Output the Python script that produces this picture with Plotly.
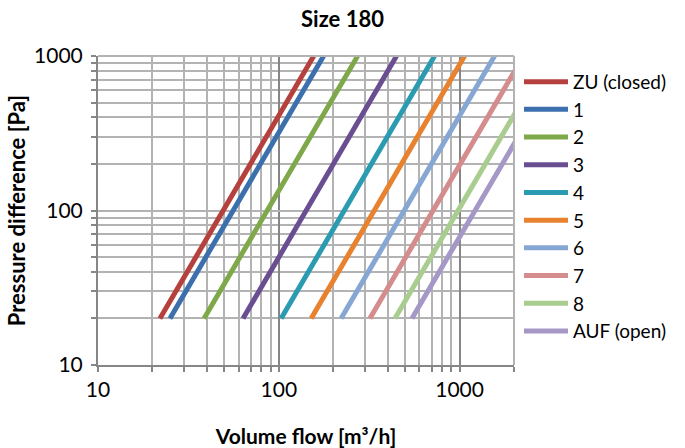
import plotly.graph_objects as go

# Series: volume flow [m3/h] at the low end (20 Pa) and high end (1000 Pa)
names = ["ZU (closed)", "1", "2", "3", "4", "5", "6", "7", "8", "AUF (open)"]
flow_low = [22, 25, 38.6, 63.4, 103, 151, 221, 319, 439, 545]
flow_high = [156, 177, 273, 448, 727, 1066, 1561, 2256, 3104, 3854]
dp_low = [20] * 10
dp_high = [1000] * 10
colors = ["#B5403D", "#3C6FAE", "#7FA84A", "#6A4E92", "#2B9BB1",
          "#E8822E", "#86A7D3", "#D48C8C", "#A9CC8F", "#A597C6"]

x_major = [10, 100, 1000]
y_major = [10, 100, 1000]
x_minor = [m * d for d in (10, 100, 1000) for m in range(2, 10) if m * d <= 2000]
y_minor = [m * d for d in (10, 100) for m in range(2, 10)]

fig = go.Figure()
for n, a, b, c, d, col in zip(names, flow_low, flow_high, dp_low, dp_high, colors):
    fig.add_trace(go.Scatter(x=[a, b], y=[c, d], mode="lines", name=n,
                             line=dict(color=col, width=5)))

font = "Lato, Carlito, 'DejaVu Sans', sans-serif"
fig.update_layout(
    width=685, height=448,
    margin=dict(l=98, r=171, t=56, b=83),
    paper_bgcolor="white", plot_bgcolor="white",
    font=dict(family=font, color="black", size=18),
    title=dict(text="<b>Size 180</b>", x=0.5, xanchor="center", y=0.958, yanchor="middle",
               font=dict(size=22, family=font)),
    legend=dict(x=1.012, xanchor="left", y=0.978, yanchor="top",
                font=dict(size=19, family=font), bgcolor="rgba(0,0,0,0)",
                itemwidth=44, maxheight=420),
    showlegend=True,
)
fig.update_xaxes(
    type="log", range=[1, 3.30103], automargin=False,
    tickvals=x_major, ticktext=["10", "100", "1000"],
    ticks="outside", ticklen=5, tickcolor="#868686", tickwidth=2,
    showline=True, linecolor="#868686", linewidth=2, mirror=False,
    showgrid=True, gridcolor="#868686", gridwidth=2,
    minor=dict(tickvals=x_minor, showgrid=True, gridcolor="#B3B3B3", gridwidth=2,
               ticks="outside", ticklen=5, tickcolor="#868686", tickwidth=2),
    title=dict(text="<b>Volume flow [m³/h]</b>", font=dict(size=21), standoff=30),
    tickfont=dict(size=21), zeroline=False,
)
fig.update_yaxes(
    type="log", range=[1, 3], automargin=False,
    tickvals=y_major, ticktext=["10", "100", "1000"],
    ticks="outside", ticklen=5, tickcolor="#868686", tickwidth=2,
    showline=True, linecolor="#868686", linewidth=2,
    showgrid=True, gridcolor="#B3B3B3", gridwidth=2,
    minor=dict(tickvals=y_minor, showgrid=True, gridcolor="#B3B3B3", gridwidth=2,
               ticks="outside", ticklen=5, tickcolor="#868686", tickwidth=2),
    title=dict(text="<b>Pressure difference [Pa]</b>", font=dict(size=22), standoff=2),
    tickfont=dict(size=21), ticklabelstandoff=4, zeroline=False,
)
# right and top frame lines in light gray
fig.add_shape(type="line", xref="paper", yref="paper", x0=1, x1=1, y0=0, y1=1,
              line=dict(color="#B3B3B3", width=2))
fig.add_shape(type="line", xref="paper", yref="paper", x0=0, x1=1, y0=1, y1=1,
              line=dict(color="#B3B3B3", width=2))

fig.write_html("out.html")
